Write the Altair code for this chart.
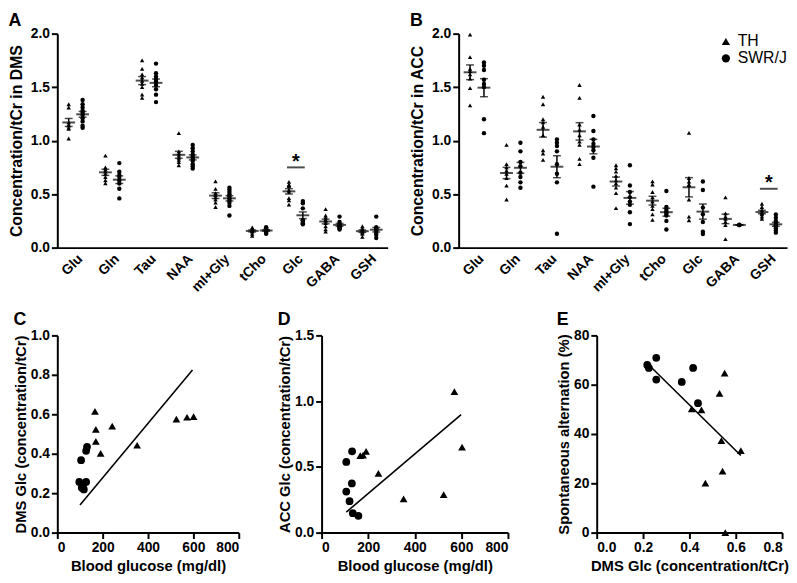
import altair as alt
import pandas as pd

F = "Liberation Sans"

cats = ["Glu", "Gln", "Tau", "NAA", "mI+Gly", "tCho", "Glc", "GABA", "GSH"]
groups = ["TH", "SWR/J"]

# ---- Panel C (DMS Glc vs blood glucose) ----
c_th_glucose = [166, 170, 170, 191, 242, 352, 525, 572, 601]
c_th_glc = [0.615, 0.523, 0.463, 0.402, 0.54, 0.443, 0.575, 0.585, 0.588]
c_swr_glucose = [105, 131, 127, 97, 127, 108, 117, 113]
c_swr_glc = [0.367, 0.435, 0.415, 0.257, 0.257, 0.228, 0.219, 0.24]
c_fit_x = [100, 596]
c_fit_y = [0.14, 0.824]

# ---- Panel D (ACC Glc vs blood glucose) ----
d_th_glucose = [570, 603, 524, 352, 244, 166, 178, 191]
d_th_glc = [1.073, 0.651, 0.289, 0.256, 0.45, 0.585, 0.59, 0.618]
d_swr_glucose = [131, 106, 106, 130, 120, 134, 158]
d_swr_glc = [0.618, 0.538, 0.312, 0.374, 0.239, 0.148, 0.128]
d_fit_x = [106, 599]
d_fit_y = [0.156, 0.897]

# ---- Panel E (alternation vs DMS Glc) ----
e_th_glc = [0.410, 0.452, 0.530, 0.552, 0.538, 0.622, 0.543, 0.469, 0.555]
e_th_alt = [50.2, 49.8, 56.5, 64.7, 37.3, 33.3, 24.9, 20.1, 0.0]
e_swr_glc = [0.218, 0.225, 0.257, 0.257, 0.367, 0.416, 0.437]
e_swr_alt = [68.0, 66.8, 70.9, 62.1, 61.1, 66.8, 52.5]
e_fit_x = [0.211, 0.622]
e_fit_y = [69.3, 31.3]

# ---- Panel A (DMS) ----
dms_th = {
    "Glu": [1.34, 1.31, 1.17, 1.15, 1.14, 1.12, 1.11, 1.02],
    "Gln": [0.86, 0.75, 0.73, 0.71, 0.69, 0.66, 0.63, 0.60],
    "Tau": [1.75, 1.67, 1.62, 1.59, 1.56, 1.53, 1.50, 1.43, 1.40],
    "NAA": [1.07, 0.90, 0.88, 0.86, 0.84, 0.82, 0.80, 0.77],
    "mI+Gly": [0.62, 0.55, 0.51, 0.49, 0.47, 0.45, 0.42, 0.38],
    "tCho": [0.19, 0.18, 0.17, 0.16, 0.16, 0.15, 0.13, 0.11],
    "Glc": c_th_glc,
    "GABA": [0.36, 0.30, 0.28, 0.26, 0.25, 0.23, 0.20, 0.17, 0.15],
    "GSH": [0.20, 0.18, 0.17, 0.16, 0.15, 0.14, 0.13, 0.10],
}
dms_swr = {
    "Glu": [1.38, 1.34, 1.31, 1.28, 1.26, 1.24, 1.21, 1.18, 1.14, 1.12],
    "Gln": [0.79, 0.71, 0.68, 0.66, 0.63, 0.60, 0.55, 0.46],
    "Tau": [1.72, 1.63, 1.60, 1.57, 1.55, 1.52, 1.48, 1.43, 1.36],
    "NAA": [0.96, 0.93, 0.90, 0.87, 0.85, 0.83, 0.81, 0.78, 0.76, 0.74],
    "mI+Gly": [0.56, 0.54, 0.52, 0.50, 0.48, 0.46, 0.44, 0.42, 0.39, 0.30],
    "tCho": [0.19, 0.18, 0.17, 0.16, 0.16, 0.15, 0.14, 0.13],
    "Glc": c_swr_glc,
    "GABA": [0.29, 0.24, 0.22, 0.21, 0.20, 0.19, 0.18, 0.17],
    "GSH": [0.29, 0.19, 0.18, 0.17, 0.16, 0.14, 0.12, 0.09],
}

# ---- Panel B (ACC) ----
acc_th = {
    "Glu": [1.99, 1.78, 1.67, 1.65, 1.62, 1.58, 1.49, 1.33],
    "Gln": [0.96, 0.78, 0.75, 0.72, 0.69, 0.65, 0.58, 0.45],
    "Tau": [1.41, 1.34, 1.20, 1.17, 1.13, 1.05, 0.91, 0.88, 0.82],
    "NAA": [1.52, 1.40, 1.15, 1.10, 1.05, 0.99, 0.96, 0.83, 0.78],
    "mI+Gly": [0.77, 0.74, 0.71, 0.67, 0.63, 0.60, 0.56, 0.51, 0.37],
    "tCho": [0.62, 0.59, 0.52, 0.47, 0.43, 0.39, 0.36, 0.31, 0.26],
    "Glc": d_th_glc,
    "GABA": [0.47, 0.32, 0.29, 0.27, 0.24, 0.21, 0.08],
    "GSH": [0.41, 0.38, 0.35, 0.33, 0.32, 0.31, 0.29, 0.27],
}
acc_swr = {
    "Glu": [1.73, 1.70, 1.66, 1.57, 1.53, 1.50, 1.20, 1.07],
    "Gln": [0.98, 0.90, 0.80, 0.76, 0.70, 0.66, 0.61, 0.56],
    "Tau": [1.01, 0.98, 0.95, 0.90, 0.78, 0.69, 0.61, 0.13],
    "NAA": [1.23, 1.09, 1.01, 0.97, 0.94, 0.91, 0.84, 0.57],
    "mI+Gly": [0.77, 0.58, 0.52, 0.47, 0.43, 0.40, 0.33, 0.22],
    "tCho": [0.53, 0.38, 0.36, 0.34, 0.32, 0.30, 0.25, 0.17],
    "Glc": d_swr_glc,
    "GABA": [0.21, 0.215, 0.212],
    "GSH": [0.31, 0.28, 0.25, 0.23, 0.21, 0.20, 0.18, 0.16, 0.14],
}

# significance markers
a_sig = {"metabolite": ["Glc"], "line": [0.75], "star": [0.80]}
b_sig = {"metabolite": ["GSH"], "line": [0.55], "star": [0.60]}


def shape_enc(show_legend):
    legend = None
    if show_legend:
        legend = alt.Legend(
            title=None, orient="top-right", offset=0, labelFont=F,
            labelFontSize=16, labelFontWeight="normal", labelColor="black",
            symbolSize=70, symbolFillColor="black", symbolStrokeColor="black",
            symbolStrokeWidth=0, rowPadding=1, labelOffset=4,
        )
    return alt.Shape(
        "group:N",
        scale=alt.Scale(domain=groups, range=["triangle-up", "circle"]),
        legend=legend,
    )


def dot_panel(th, swr, ytitle, letter, sig, show_legend, w, h):
    rows = []
    for c in cats:
        for v in th[c]:
            rows.append({"metabolite": c, "group": "TH", "value": v})
        for v in swr[c]:
            rows.append({"metabolite": c, "group": "SWR/J", "value": v})
    df = pd.DataFrame(rows)
    x = alt.X(
        "metabolite:N", sort=cats,
        scale=alt.Scale(domain=cats, paddingInner=0, paddingOuter=0),
        axis=alt.Axis(title=None, labelAngle=-45, ticks=False, labelPadding=4,
                      labelFontSize=14),
    )
    xo = alt.XOffset(
        "group:N", sort=groups,
        scale=alt.Scale(domain=groups, paddingInner=0, paddingOuter=0.32),
    )

    def yq(field):
        return alt.Y(
            field, scale=alt.Scale(domain=[0, 2], nice=False),
            axis=alt.Axis(values=[0, 0.5, 1.0, 1.5, 2.0], format=".1f",
                          title=ytitle, titlePadding=6, titleFontSize=16),
        )

    base = alt.Chart(df)
    pts = base.mark_point(filled=True, color="black", opacity=1, size=20).encode(
        x=x, xOffset=xo, y=yq("value:Q"), shape=shape_enc(show_legend)
    )
    stats = base.transform_aggregate(
        m="mean(value)", se="stderr(value)", groupby=["metabolite", "group"]
    ).transform_calculate(lo="datum.m - datum.se", hi="datum.m + datum.se")
    mean_t = stats.mark_tick(color="black", size=13, thickness=2).encode(
        x=x, xOffset=xo, y=yq("m:Q"))
    lo_t = stats.mark_tick(color="black", size=8, thickness=1.5).encode(
        x=x, xOffset=xo, y=yq("lo:Q"))
    hi_t = stats.mark_tick(color="black", size=8, thickness=1.5).encode(
        x=x, xOffset=xo, y=yq("hi:Q"))
    err = stats.mark_rule(color="black", strokeWidth=1.5).encode(
        x=x, xOffset=xo, y=yq("lo:Q"), y2="hi:Q")
    sdf = pd.DataFrame(sig)
    sig_line = alt.Chart(sdf).mark_tick(color="black", size=18, thickness=2).encode(
        x=x, y=yq("line:Q"))
    sig_star = alt.Chart(sdf).mark_text(
        text="*", font=F, fontSize=20, fontWeight="bold", baseline="middle",
        color="black").encode(x=x, y=yq("star:Q"))
    return alt.layer(pts, err, mean_t, lo_t, hi_t, sig_line, sig_star).properties(
        width=w, height=h,
        title=alt.TitleParams(letter, anchor="start", frame="bounds", fontSize=18,
                              fontWeight="bold", font=F, color="black", offset=-3),
    )


def scatter_panel(th_x, th_y, swr_x, swr_y, fit_x, fit_y, xdom, xvals, xfmt,
                  xtitle, ydom, yvals, yfmt, ytitle, letter, w, h):
    df = pd.DataFrame({
        "x": list(th_x) + list(swr_x),
        "y": list(th_y) + list(swr_y),
        "group": ["TH"] * len(th_x) + ["SWR/J"] * len(swr_x),
    })
    fit = pd.DataFrame({"x": fit_x, "y": fit_y})
    X = alt.X("x:Q", scale=alt.Scale(domain=xdom, nice=False, zero=False),
              axis=alt.Axis(values=xvals, format=xfmt, title=xtitle, titlePadding=4))
    Y = alt.Y("y:Q", scale=alt.Scale(domain=ydom, nice=False, zero=False),
              axis=alt.Axis(values=yvals, format=yfmt, title=ytitle, titlePadding=2))
    pts = alt.Chart(df).mark_point(filled=True, color="black", opacity=1, size=62).encode(
        x=X, y=Y, shape=shape_enc(False))
    line = alt.Chart(fit).mark_line(color="black", strokeWidth=1.6).encode(x=X, y=Y)
    return alt.layer(line, pts).properties(
        width=w, height=h,
        title=alt.TitleParams(letter, anchor="start", frame="bounds", fontSize=18,
                              fontWeight="bold", font=F, color="black", offset=0),
    )


A = dot_panel(dms_th, dms_swr, "Concentration/tCr in DMS", "A", a_sig, False, 335, 217)
B = dot_panel(acc_th, acc_swr, "Concentration/tCr in ACC", "B", b_sig, True, 333, 217)

C = scatter_panel(c_th_glucose, c_th_glc, c_swr_glucose, c_swr_glc, c_fit_x, c_fit_y,
                  [0, 800], [0, 200, 400, 600, 800], "d", "Blood glucose (mg/dl)",
                  [0, 1.0], [0, 0.2, 0.4, 0.6, 0.8, 1.0], ".1f",
                  "DMS Glc (concentration/tCr)", "C", 184, 200)
D = scatter_panel(d_th_glucose, d_th_glc, d_swr_glucose, d_swr_glc, d_fit_x, d_fit_y,
                  [0, 800], [0, 200, 400, 600, 800], "d", "Blood glucose (mg/dl)",
                  [0, 1.5], [0, 0.5, 1.0, 1.5], ".1f",
                  "ACC Glc (concentration/tCr)", "D", 189, 200)
E = scatter_panel(e_th_glc, e_th_alt, e_swr_glc, e_swr_alt, e_fit_x, e_fit_y,
                  [0, 0.8], [0, 0.2, 0.4, 0.6, 0.8], ".1f", "DMS Glc (concentration/tCr)",
                  [0, 80], [0, 20, 40, 60, 80], "d",
                  "Spontaneous alternation (%)", "E", 188, 200)

top = alt.hconcat(A, B, spacing=22).resolve_scale(shape="independent").resolve_legend(shape="independent")
cd = alt.hconcat(C, D, spacing=38).resolve_scale(shape="independent").resolve_legend(shape="independent")
bottom = alt.hconcat(cd, E, spacing=48).resolve_scale(shape="independent").resolve_legend(shape="independent")

chart = alt.vconcat(top, bottom, spacing=16).resolve_scale(
    shape="independent").resolve_legend(shape="independent").properties(
    padding=0
).configure_axis(
    domainColor="black", domainWidth=2, tickColor="black", tickWidth=2, tickSize=6,
    labelFont=F, labelFontWeight="bold", labelFontSize=14, labelColor="black",
    titleFont=F, titleFontWeight="bold", titleFontSize=15, titleColor="black",
    grid=False, labelPadding=2,
).configure_view(stroke=None)

chart.save("out.html", embed_options={"renderer": "svg", "actions": False})
